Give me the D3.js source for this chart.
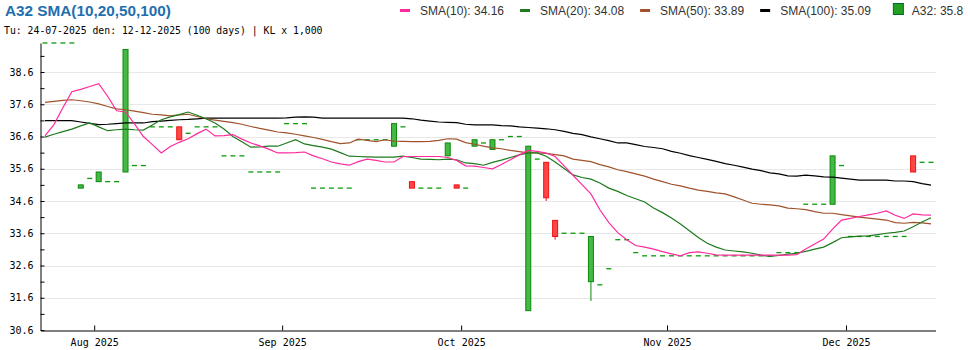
<!DOCTYPE html>
<html><head><meta charset="utf-8">
<script src="https://cdn.jsdelivr.net/npm/d3@7"></script>
<style>body{margin:0;background:#fff;} svg{display:block;}</style>
</head><body><svg id="c" width="970" height="350"></svg>
<script>
// ---------------- DATA ----------------
const ticker = "A32";
const dates = [
"2025-07-24","2025-07-25","2025-07-28","2025-07-29","2025-07-30","2025-07-31",
"2025-08-01","2025-08-04","2025-08-05","2025-08-06","2025-08-07","2025-08-08","2025-08-11","2025-08-12","2025-08-13","2025-08-14","2025-08-15",
"2025-08-18","2025-08-19","2025-08-20","2025-08-21","2025-08-22","2025-08-25","2025-08-26","2025-08-27","2025-08-28","2025-08-29",
"2025-09-03","2025-09-04","2025-09-05","2025-09-08","2025-09-09","2025-09-10","2025-09-11","2025-09-12","2025-09-15","2025-09-16",
"2025-09-17","2025-09-18","2025-09-19","2025-09-22","2025-09-23","2025-09-24","2025-09-25","2025-09-26","2025-09-29","2025-09-30",
"2025-10-01","2025-10-02","2025-10-03","2025-10-06","2025-10-07","2025-10-08","2025-10-09","2025-10-10","2025-10-13","2025-10-14",
"2025-10-15","2025-10-16","2025-10-17","2025-10-20","2025-10-21","2025-10-22","2025-10-23","2025-10-24","2025-10-27","2025-10-28",
"2025-10-29","2025-10-30","2025-10-31",
"2025-11-03","2025-11-04","2025-11-05","2025-11-06","2025-11-07","2025-11-10","2025-11-11","2025-11-12","2025-11-13","2025-11-14",
"2025-11-17","2025-11-18","2025-11-19","2025-11-20","2025-11-21","2025-11-24","2025-11-25","2025-11-26","2025-11-27","2025-11-28",
"2025-12-01","2025-12-02","2025-12-03","2025-12-04","2025-12-05","2025-12-08","2025-12-09","2025-12-10","2025-12-11","2025-12-12"
];
// open is null on days without trades (a reference dash is drawn at closeP)
const openP = [
null,null,null,null,35.0,null,35.2,null,null,35.5,
null,null,null,null,null,36.9,null,null,null,null,
null,null,null,null,null,null,null,null,null,null,
null,null,null,null,null,null,null,null,null,36.3,
null,35.2,null,null,null,36.0,35.1,null,36.3,null,
36.2,null,null,null,31.2,null,35.8,34.0,null,null,
null,32.1,null,null,null,null,null,null,null,null,
null,null,null,null,null,null,null,null,null,null,
null,null,null,null,null,null,null,null,34.5,null,
null,null,null,null,null,null,null,36.0,null,null
];
const closeP = [
39.5,39.5,39.5,39.5,35.1,35.3,35.5,35.2,35.2,39.3,
35.7,35.7,36.9,36.9,36.9,36.5,36.7,36.9,36.9,36.9,
36.0,36.0,36.0,35.5,35.5,35.5,35.5,37.0,37.0,37.0,
35.0,35.0,35.0,35.0,35.0,36.5,36.5,36.5,36.5,37.0,
36.9,35.0,35.0,35.0,35.0,36.4,35.0,35.0,36.5,36.4,
36.5,36.5,36.6,36.6,36.3,35.9,34.7,33.5,33.6,33.6,
33.6,33.5,32.0,32.5,33.4,33.4,33.0,32.9,32.9,32.9,
32.9,32.9,32.9,32.9,32.9,32.9,32.9,32.9,32.9,32.9,
32.9,32.9,33.0,33.0,33.0,34.5,34.5,34.5,36.0,35.7,
33.5,33.5,33.5,33.5,33.5,33.5,33.5,35.5,35.8,35.8
];
const highP = [
null,null,null,null,35.1,null,35.5,null,null,39.3,
null,null,null,null,null,36.9,null,null,null,null,
null,null,null,null,null,null,null,null,null,null,
null,null,null,null,null,null,null,null,null,37.0,
null,35.2,null,null,null,36.4,35.1,null,36.5,null,
36.5,null,null,null,36.3,null,35.8,34.0,null,null,
null,33.5,null,null,null,null,null,null,null,null,
null,null,null,null,null,null,null,null,null,null,
null,null,null,null,null,null,null,null,36.0,null,
null,null,null,null,null,null,null,36.0,null,null
];
const lowP = [
null,null,null,null,35.0,null,35.2,null,null,35.5,
null,null,null,null,null,36.5,null,null,null,null,
null,null,null,null,null,null,null,null,null,null,
null,null,null,null,null,null,null,null,null,36.3,
null,35.0,null,null,null,36.0,35.0,null,36.3,null,
36.2,null,null,null,31.2,null,34.6,33.4,null,null,
null,31.5,null,null,null,null,null,null,null,null,
null,null,null,null,null,null,null,null,null,null,
null,null,null,null,null,null,null,null,34.5,null,
null,null,null,null,null,null,null,35.5,null,null
];
const sma10 = [
36.62,36.97,37.49,37.99,38.06,38.15,38.24,37.85,37.40,37.36,
36.99,36.60,36.35,36.09,36.29,36.42,36.53,36.69,36.83,36.62,
36.63,36.66,36.52,36.40,36.31,36.21,36.09,36.09,36.10,36.12,
36.00,35.91,35.81,35.75,35.71,35.82,35.90,35.86,35.81,35.81,
35.98,35.98,35.98,35.98,35.98,35.95,35.86,35.69,35.68,35.64,
35.60,35.73,35.88,36.03,36.17,36.14,36.09,35.98,35.69,35.40,
35.11,34.82,34.33,33.93,33.62,33.40,33.22,33.17,33.11,33.03,
32.96,32.90,33.00,33.02,32.98,32.93,32.92,32.92,32.92,32.92,
32.92,32.92,32.92,32.92,32.94,33.11,33.27,33.42,33.73,34.01,
34.06,34.12,34.17,34.22,34.29,34.16,34.06,34.20,34.17,34.16
];
const sma20 = [
36.58,36.67,36.75,36.83,36.93,37.02,36.90,36.78,36.81,36.83,
36.81,36.80,36.96,37.12,37.21,37.28,37.36,37.26,37.15,37.02,
36.83,36.60,36.44,36.27,36.28,36.30,36.30,36.40,36.50,36.37,
36.32,36.27,36.21,36.10,35.99,35.98,35.97,35.96,35.96,35.96,
35.99,35.95,35.90,35.89,35.88,35.90,35.88,35.78,35.76,35.71,
35.80,35.87,35.95,36.03,36.09,36.09,35.99,35.81,35.61,35.41,
35.33,35.28,35.16,35.00,34.90,34.77,34.67,34.57,34.38,34.24,
34.07,33.89,33.68,33.47,33.29,33.17,33.08,33.05,33.02,32.98,
32.92,32.88,32.91,32.95,32.98,33.04,33.11,33.17,33.31,33.46,
33.49,33.51,33.52,33.56,33.60,33.63,33.67,33.80,33.95,34.08
];
const sma50 = [
37.66,37.69,37.72,37.74,37.71,37.67,37.61,37.53,37.46,37.43,
37.39,37.34,37.29,37.27,37.24,37.27,37.29,37.22,37.15,37.11,
37.07,37.03,36.98,36.91,36.85,36.80,36.74,36.71,36.67,36.62,
36.57,36.51,36.44,36.38,36.40,36.52,36.48,36.44,36.50,36.46,
36.45,36.44,36.44,36.45,36.48,36.53,36.52,36.41,36.36,36.30,
36.25,36.22,36.17,36.13,36.09,36.09,36.08,36.04,36.00,35.90,
35.86,35.82,35.73,35.66,35.57,35.51,35.44,35.37,35.28,35.20,
35.12,35.07,35.00,34.94,34.90,34.85,34.82,34.73,34.63,34.53,
34.50,34.48,34.45,34.38,34.36,34.33,34.27,34.22,34.22,34.18,
34.14,34.10,34.07,34.04,34.01,33.93,33.91,33.94,33.92,33.89
];
const sma100 = [
37.09,37.09,37.09,37.09,37.05,37.01,36.97,36.98,37.00,37.02,
37.02,37.02,37.06,37.08,37.10,37.12,37.13,37.15,37.17,37.17,
37.17,37.17,37.17,37.17,37.17,37.17,37.17,37.18,37.20,37.21,
37.20,37.17,37.17,37.17,37.17,37.17,37.17,37.17,37.17,37.17,
37.17,37.15,37.11,37.08,37.05,37.04,37.03,36.98,36.96,36.96,
36.96,36.94,36.93,36.90,36.88,36.86,36.84,36.81,36.76,36.70,
36.66,36.59,36.53,36.47,36.40,36.40,36.35,36.29,36.26,36.22,
36.14,36.08,36.01,35.95,35.89,35.83,35.76,35.71,35.65,35.59,
35.54,35.47,35.44,35.38,35.37,35.40,35.38,35.35,35.34,35.31,
35.28,35.25,35.25,35.25,35.25,35.22,35.22,35.20,35.14,35.09
];
const yMajorTicks = [30.6,31.6,32.6,33.6,34.6,35.6,36.6,37.6,38.6];
const yMinorTicks = [31.1,32.1,33.1,34.1,35.1,36.1,37.1,38.1,39.1];
const yDomain = [30.6, 39.5];
const monthNames = ["Jan","Feb","Mar","Apr","May","Jun","Jul","Aug","Sep","Oct","Nov","Dec"];
const smaNames = ["SMA(10)","SMA(20)","SMA(50)","SMA(100)"];
const smaSeries = [sma10, sma20, sma50, sma100];
const smaColors = ["#ff2a9d","#1e7a1e","#a0522d","#000000"];

// ---------------- CHART ----------------
const svg = d3.select("#c");
const n = dates.length;
const x = d3.scaleLinear().domain([0, n]).range([40.5, 935.5]);
const y = d3.scaleLinear().domain(yDomain).range([330, 43]);
const cx = i => x(i + 0.5);

// title
svg.append("text").attr("x",5).attr("y",16)
  .attr("font-family","Liberation Sans, Arial, sans-serif").attr("font-weight","bold")
  .attr("font-size",15.3).attr("fill","#1f6fae")
  .text(ticker + " SMA(10,20,50,100)");
const fmtD = s => s.slice(8,10)+"-"+s.slice(5,7)+"-"+s.slice(0,4);
svg.append("text").attr("x",4).attr("y",34)
  .attr("font-family","DejaVu Sans Mono, monospace").attr("font-size",9.8).attr("fill","#000")
  .text("Tu: "+fmtD(dates[0])+" den: "+fmtD(dates[n-1])+" ("+n+" days) | KL x 1,000");

// gridlines
svg.append("g").selectAll("line").data(yMajorTicks.slice(1)).join("line")
  .attr("x1",41).attr("x2",936)
  .attr("y1",d=>Math.round(y(d))+0.5).attr("y2",d=>Math.round(y(d))+0.5)
  .attr("stroke","#e8e8e8").attr("stroke-width",1).attr("shape-rendering","crispEdges");

// axes
const yAxis = d3.axisLeft(y)
  .tickValues(yMajorTicks.concat(yMinorTicks).sort((a,b)=>a-b))
  .tickSizeInner(-4).tickSizeOuter(0).tickPadding(7)
  .tickFormat(d => yMajorTicks.some(t=>Math.abs(t-d)<1e-9) ? d.toFixed(1) : "");
const gy = svg.append("g").attr("transform","translate(40.5,0)").call(yAxis);
gy.selectAll("text").attr("font-family","DejaVu Sans Mono, monospace").attr("font-size",10).attr("fill","#000");
gy.selectAll("line,path").attr("stroke","#000");

const monthStarts = [];
dates.forEach((d,i)=>{ if(i>0 && d.slice(5,7)!==dates[i-1].slice(5,7)) monthStarts.push(i); });
const xAxis = d3.axisBottom(x).tickValues(monthStarts)
  .tickSizeInner(-5).tickSizeOuter(0).tickPadding(8)
  .tickFormat(i => monthNames[+dates[i].slice(5,7)-1]+" "+dates[i].slice(0,4));
const gx = svg.append("g").attr("transform","translate(0,330.5)").call(xAxis);
gx.selectAll("text").attr("font-family","DejaVu Sans Mono, monospace").attr("font-size",10).attr("fill","#000");
gx.selectAll("line,path").attr("stroke","#000");

// no-trade dashes
const idx = d3.range(n);
svg.append("g").selectAll("line").data(idx.filter(i=>openP[i]===null)).join("line")
  .attr("x1",i=>cx(i)-2.5).attr("x2",i=>cx(i)+2.5)
  .attr("y1",i=>y(closeP[i])).attr("y2",i=>y(closeP[i]))
  .attr("stroke","#0a9a0a").attr("stroke-width",1.3);

// candles
const trades = idx.filter(i=>openP[i]!==null);
const up = i => closeP[i] >= openP[i];
const gc = svg.append("g");
gc.selectAll("line").data(trades).join("line")
  .attr("x1",i=>cx(i)).attr("x2",i=>cx(i))
  .attr("y1",i=>y(highP[i])).attr("y2",i=>y(lowP[i]))
  .attr("stroke",i=>up(i)?"#0a8a0a":"#ee1111").attr("stroke-width",1);
gc.selectAll("rect").data(trades).join("rect")
  .attr("x",i=>cx(i)-2.5).attr("width",5)
  .attr("y",i=>y(Math.max(openP[i],closeP[i])))
  .attr("height",i=>Math.max(1,Math.abs(y(openP[i])-y(closeP[i]))))
  .attr("fill",i=>up(i)?"#45b845":"#ff4646")
  .attr("stroke",i=>up(i)?"#0a8a0a":"#ee1111").attr("stroke-width",1);

// SMA lines
const line = d3.line().x((d,i)=>cx(i)).y(d=>y(d));
svg.append("g").selectAll("path").data([3,2,1,0]).join("path")
  .attr("d",k=>line(smaSeries[k])).attr("fill","none")
  .attr("stroke",k=>smaColors[k]).attr("stroke-width",1.2);

// legend
const lg = svg.append("g").attr("font-family","Liberation Sans, Arial, sans-serif").attr("font-size",12).attr("fill","#333");
let lx = 400;
smaNames.forEach((nm,k)=>{
  lg.append("line").attr("x1",lx).attr("x2",lx+10).attr("y1",10.5).attr("y2",10.5)
    .attr("stroke",smaColors[k]).attr("stroke-width",3);
  const t = lg.append("text").attr("x",lx+20).attr("y",14.5)
    .text(nm+": "+smaSeries[k][n-1].toFixed(2));
  lx = lx + 20 + t.node().getComputedTextLength() + 16;
});
lx += 6;
lg.append("rect").attr("x",lx+0.5).attr("y",3.5).attr("width",10).attr("height",11)
  .attr("fill","#22a022").attr("stroke","#063").attr("stroke-width",1);
lg.append("text").attr("x",lx+19).attr("y",14.5).text(ticker+": "+closeP[n-1]);
</script></body></html>
